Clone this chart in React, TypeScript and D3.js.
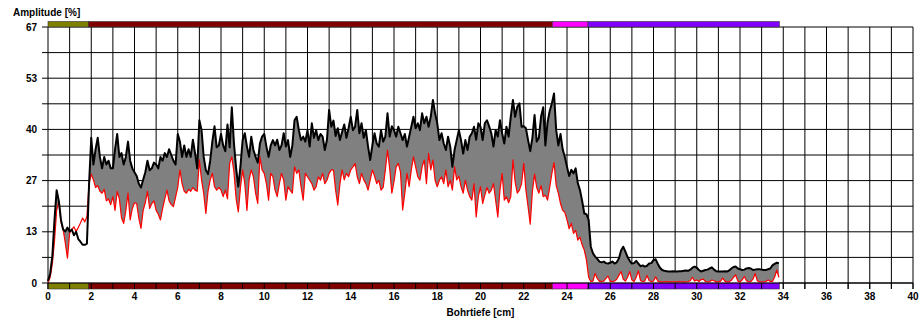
import { useEffect, useRef } from 'react';
import * as d3 from 'd3';

// sampling step along the drill depth, cm
const DEPTH_STEP = 0.1;

// upper envelope (black), one row per cm
const UPPER = [
  0.5, 2.5, 7, 16.5, 24.3, 21.5, 16.5, 14, 13.5, 14.5,
  13.5, 14, 12.5, 13.4, 11.5, 10.8, 10, 10, 10.3, 26,
  38, 31, 35, 38, 33, 30, 33, 31, 32, 30,
  30, 35, 39, 33, 34, 31, 33, 37, 32, 30,
  29, 28, 26, 25, 27, 29, 32, 29.5, 30, 31.5,
  31, 30, 33, 32, 34, 33, 35, 33.5, 32, 31,
  39, 37, 33, 36, 33, 35, 33, 37.5, 34, 30,
  42.6, 40, 33, 29.5, 28.5, 32, 37, 41, 35.5, 36,
  39, 36, 34.5, 41.5, 35.5, 46, 36.5, 30, 25.2, 30.5,
  37.4, 39.2, 35.7, 33, 38.3, 34.8, 33, 31.5, 36.5, 38.3,
  39, 35.7, 33, 36, 37.4, 36, 37.5, 34.8, 36, 39.2,
  35.7, 37.4, 33, 36, 42.6, 43.5, 40, 37.4, 38.3, 37,
  40, 35.7, 41.8, 38, 40, 37.4, 39, 38.3, 34.8, 37.5,
  45.3, 40.9, 42.5, 38.5, 40.5, 37.4, 39.5, 41.5, 38, 40.5,
  43.5, 40, 40.9, 45.3, 39.2, 41.8, 38, 40, 35.7, 32.2,
  36, 39.2, 36.5, 35.7, 40, 37, 38.3, 44.4, 38.3, 41,
  40, 38.3, 40.9, 39.2, 37.4, 39, 35.7, 38.3, 40.9, 43.5,
  40.5, 41.8, 40, 44.4, 41.8, 43.5, 40.9, 43.5, 47.9, 44.4,
  41.8, 37.4, 39.2, 36.5, 34.8, 38.3, 35.7, 30.4, 34.8, 37.4,
  40, 37.4, 33.9, 37.4, 34.8, 38.3, 39.2, 40.9, 37.5, 41.8,
  40.9, 37.4, 41.8, 42.6, 41, 39.2, 35.7, 40, 38.3, 42.6,
  39.2, 36.5, 40.9, 38.3, 43.5, 47.9, 43.5, 46.1, 47, 40.9,
  41, 40.5, 37.4, 34.5, 38, 44, 37, 38, 43.5, 46,
  36, 42, 45, 47, 49.6, 40, 36, 39, 35, 33,
  30.4, 28, 29.6, 28.7, 30, 26.1, 24.3, 21.5, 18.2, 18,
  16.5, 9.5, 7.8, 6.9, 6.3, 5.6, 5.4, 5.6, 5.2, 5.1,
  5.3, 5.6, 5.1, 5.4, 6.4, 8.5, 9.5, 8.2, 6.8, 5.8,
  5.1, 5.2, 5.8, 5.1, 4.4, 4.6, 4.3, 4.5, 5.1, 5.2,
  6.0, 6.2, 5.0, 4.0, 3.4, 3.2, 3.1, 3.0, 3.0, 3.1,
  3.0, 3.0, 3.1, 3.1, 3.2, 3.3, 3.2, 3.5, 4.0, 4.3,
  4.0, 3.4, 3.0, 3.2, 3.4, 3.5, 3.8, 4.1, 3.5, 3.1,
  3.0, 3.0, 3.0, 3.1, 3.0, 3.3, 3.8, 4.2, 4.3, 3.8,
  3.6, 3.4, 3.5, 3.8, 3.9, 3.8, 3.4, 3.5, 3.6, 3.6,
  3.5, 3.4, 3.4, 3.6, 3.8, 4.6, 5.0, 5.3, 5.2,
];

// lower envelope (red)
const LOWER = [
  0, 1.5, 5, 11, 19, 21.3, 16, 14, 10.5, 6.5,
  13, 14, 14.7, 13.5, 14.5, 15.7, 17, 16, 17.4, 26,
  28.5, 27, 25, 25.5, 24, 23.5, 24.5, 21.5, 22, 20.5,
  22.6, 19, 24, 22, 17, 15.6, 19, 23.5, 16.5, 19.5,
  21, 20.8, 17, 14.3, 19, 21, 24, 19.5, 20.8, 21.5,
  19, 18, 16.5, 19.5, 22, 24.3, 21.5, 20.5, 20, 22.5,
  25, 29.6, 26, 24, 23.5, 24.5, 24, 25, 24.3, 24,
  32.2, 27, 23.5, 18.2, 24, 27, 28.7, 25.2, 24.3, 25,
  24.3, 22.6, 24.3, 22, 31.3, 33, 29, 22, 18.6, 25,
  29.6, 26, 19, 27, 29.6, 27.8, 23.5, 20.8, 33, 29.6,
  28.7, 26, 21.7, 28.7, 27.8, 24.3, 22.6, 26, 28.7, 26.9,
  21.7, 25.2, 24.3, 23.5, 30.4, 28.7, 29.6, 25.2, 21.7, 28.7,
  27.8, 26.9, 26, 24.3, 25.2, 27.8, 26.9, 28.7, 26, 26.9,
  28.7, 29.6, 29.6, 24.3, 20.4, 26, 29.6, 27, 28.7, 27.8,
  29.6, 30.4, 31.3, 27.8, 26, 28.7, 27, 26, 24.3, 27,
  29.6, 28, 26, 26.9, 24.3, 25, 29.6, 34.8, 30, 23.5,
  26.5, 30.4, 31.3, 29, 19.1, 23.5, 28.7, 25.2, 29.6, 33,
  30.4, 27.8, 26.9, 30.4, 32.2, 26, 33.9, 29.6, 32.2, 26.9,
  25.2, 26.9, 27.8, 26, 29.6, 25.2, 26.9, 24.3, 30.4, 27,
  28, 25.2, 23.5, 26.9, 24.3, 22.6, 21.7, 26, 17.3, 22.6,
  25.2, 20.8, 23, 25, 23.5, 24.3, 26, 21.7, 17.3, 24.3,
  28.7, 21.7, 22.6, 21, 22.6, 32.2, 26.5, 23.5, 24.3, 26,
  31.3, 24.3, 20, 15.4, 24, 28.5, 25, 23.5, 25.5, 22.6,
  23, 21.7, 25, 28.7, 31.5, 25.5, 23.5, 20.8, 19, 18.5,
  16.5, 14.2, 15.6, 13, 13.8, 11.2, 12, 10, 8.6, 6,
  1.5, 0.4, 0.5, 2.5, 1.2, 0.4, 0.4, 0.5, 1.2, 1.8,
  0.4, 0.4, 0.5, 1.0, 2.0, 3.0, 1.0, 0.5, 1.5, 3.0,
  0.8, 0.4, 1.5, 3.2, 0.6, 0.4, 0.5, 2.0, 0.6, 0.4,
  0.5, 1.6, 0.5, 0.3, 0.3, 0.3, 0.4, 0.3, 0.3, 0.3,
  0.3, 0.3, 0.4, 0.3, 0.3, 0.3, 0.4, 0.6, 1.5, 0.5,
  0.8, 0.4, 0.9, 1.0, 0.4, 0.3, 0.4, 0.8, 0.6, 0.3,
  0.3, 0.5, 1.3, 0.5, 0.3, 0.3, 0.7, 1.5, 2.1, 0.5,
  0.3, 0.8, 1.7, 0.6, 0.3, 0.4, 1.0, 2.5, 0.6, 0.3,
  0.3, 0.3, 0.4, 0.8, 0.4, 0.4, 1.5, 3.4, 1.5,
];

// layer segments shown in the bars above and below the plot
const LAYERS = [
  { from: 0, to: 1.88, color: '#808000' },
  { from: 1.88, to: 23.32, color: '#800000' },
  { from: 23.32, to: 24.97, color: '#ff00ff' },
  { from: 24.97, to: 33.82, color: '#8000ff' },
];

const Y_TICKS = [0, 6.7, 13.4, 20.1, 26.8, 33.5, 40.2, 46.9, 53.6, 60.3, 67];
const Y_LABELS = ['0', '', '13', '', '27', '', '40', '', '53', '', '67'];
const X_MAX = 40;

const W = 922;
const H = 322;
const FONT = '"Liberation Sans", Arial, sans-serif';

export default function App() {
  const svgRef = useRef<SVGSVGElement>(null);

  useEffect(() => {
    if (!svgRef.current) return;
    const svg = d3.select(svgRef.current);
    svg.selectAll('*').remove();

    const x = d3.scaleLinear().domain([0, X_MAX]).range([48, 913]);
    const y = d3.scaleLinear().domain([0, 67]).range([283, 27]);

    const pts = UPPER.map((u, i) => ({ d: i * DEPTH_STEP, u, l: LOWER[i] }));

    // grid
    const grid = svg.append('g').attr('stroke', '#000').attr('stroke-width', 1);
    grid.selectAll('line.v').data(d3.range(0, X_MAX + 1)).join('line')
      .attr('class', 'v')
      .attr('x1', d => x(d)).attr('x2', d => x(d))
      .attr('y1', y(67)).attr('y2', y(0) + 6);
    grid.selectAll('line.h').data(Y_TICKS).join('line')
      .attr('class', 'h')
      .attr('x1', x(0) - 6).attr('x2', x(X_MAX))
      .attr('y1', d => y(d)).attr('y2', d => y(d));

    // filled band: grey under the upper curve, white under the lower one
    const areaUpper = d3.area<typeof pts[0]>().x(p => x(p.d)).y0(y(0)).y1(p => y(p.u));
    const areaLower = d3.area<typeof pts[0]>().x(p => x(p.d)).y0(y(0)).y1(p => y(p.l));
    svg.append('path').datum(pts).attr('d', areaUpper).attr('fill', '#808080');
    svg.append('path').datum(pts).attr('d', areaLower).attr('fill', '#ffffff');

    const lineLower = d3.line<typeof pts[0]>().x(p => x(p.d)).y(p => y(p.l));
    const lineUpper = d3.line<typeof pts[0]>().x(p => x(p.d)).y(p => y(p.u));
    svg.append('path').datum(pts).attr('d', lineLower)
      .attr('fill', 'none').attr('stroke', '#ff0000').attr('stroke-width', 1.2)
      .attr('stroke-linejoin', 'round');
    svg.append('path').datum(pts).attr('d', lineUpper)
      .attr('fill', 'none').attr('stroke', '#000').attr('stroke-width', 2)
      .attr('stroke-linejoin', 'round');

    // layer bars
    [[21.5, 27], [283, 289]].forEach(([top, bottom]) => {
      svg.append('g').selectAll('rect').data(LAYERS).join('rect')
        .attr('x', d => x(d.from)).attr('width', d => x(d.to) - x(d.from))
        .attr('y', top).attr('height', bottom - top)
        .attr('fill', d => d.color)
        .attr('stroke', '#333').attr('stroke-width', 0.6);
    });
    svg.append('g').selectAll('line').data(d3.range(0, X_MAX + 1)).join('line')
      .attr('x1', d => x(d)).attr('x2', d => x(d))
      .attr('y1', 283).attr('y2', 289)
      .attr('stroke', '#000').attr('stroke-width', 1);
    svg.append('line')
      .attr('x1', x(0)).attr('x2', x(X_MAX)).attr('y1', y(0)).attr('y2', y(0))
      .attr('stroke', '#000').attr('stroke-width', 1);

    // labels
    const txt = svg.append('g')
      .attr('font-family', FONT).attr('font-size', 10).attr('font-weight', 'bold').attr('fill', '#000');
    txt.selectAll('text.y').data(Y_TICKS).join('text')
      .attr('class', 'y')
      .attr('x', 37).attr('y', d => y(d) + 3.5)
      .attr('text-anchor', 'end')
      .text((_, i) => Y_LABELS[i]);
    txt.selectAll('text.x').data(d3.range(0, X_MAX + 1, 2)).join('text')
      .attr('class', 'x')
      .attr('x', d => x(d)).attr('y', 300)
      .attr('text-anchor', 'middle')
      .text(d => String(d));
    txt.append('text').attr('x', 13).attr('y', 16).text('Amplitude [%]');
    txt.append('text').attr('x', (x(0) + x(X_MAX)) / 2).attr('y', 316)
      .attr('text-anchor', 'middle').text('Bohrtiefe [cm]');
  }, []);

  return (
    <svg
      ref={svgRef}
      width={W}
      height={H}
      style={{ position: 'absolute', left: 0, top: 0, background: '#fff' }}
    />
  );
}
